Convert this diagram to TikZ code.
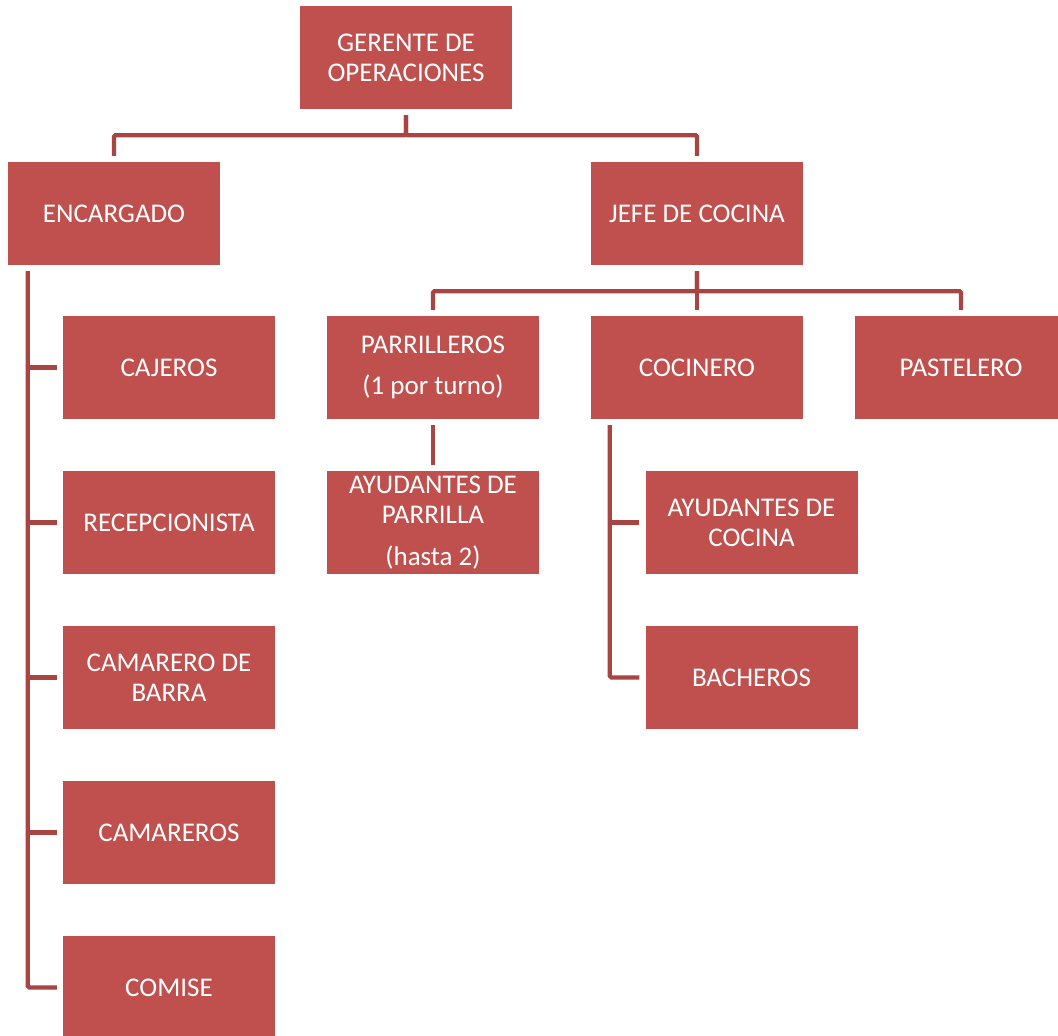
\documentclass[tikz,border=0pt]{standalone}
\usepackage{fontspec}
\setmainfont{Carlito}
\usepackage{tikz}
\usetikzlibrary{positioning}
\definecolor{rojocaja}{RGB}{192,80,77}
\definecolor{rojolinea}{RGB}{168,68,66}
\begin{document}
\begin{tikzpicture}[x=1pt,y=-1pt,
  puesto/.style={fill=rojocaja,draw=none,text=white,minimum width=212pt,minimum height=103pt,inner sep=0pt,align=center,font=\fontsize{27}{30}\selectfont},
  enlace/.style={draw=rojolinea,line width=4.2pt,rounded corners=1.5pt,shorten <=6pt,shorten >=6pt}]
\useasboundingbox (0,0) rectangle (1058,1036);
% primer nivel
\node[puesto] (ger) at (406,57.5) {GERENTE DE\\OPERACIONES};
\node[puesto] (enc) at (114,213.5) {ENCARGADO};
\node[puesto] (jefe) at (697,213.5) {JEFE DE COCINA};
% sala
\node[puesto] (caj) at (169,367.5) {CAJEROS};
\node[puesto] (rec) at (169,522.5) {RECEPCIONISTA};
\node[puesto] (cbar) at (169,677.5) {CAMARERO DE\\BARRA};
\node[puesto] (cams) at (169,832.5) {CAMAREROS};
\node[puesto] (com) at (169,987.5) {COMISE};
% cocina
\node[puesto] (parr) at (433,367.5) {PARRILLEROS\\[11pt](1 por turno)};
\node[puesto] (coc) at (697,367.5) {COCINERO};
\node[puesto] (past) at (961,367.5) {PASTELERO};
\node[puesto] (aypar) at (433,522.5) {AYUDANTES DE\\PARRILLA\\[12pt](hasta 2)};
\node[puesto] (aycoc) at (751.5,522.5) {AYUDANTES DE\\COCINA};
\node[puesto] (bach) at (751.5,677.5) {BACHEROS};
% enlaces
\draw[enlace] (ger.south) -- ++(0,26) -| (enc.north);
\draw[enlace] (ger.south) -- ++(0,26) -| (jefe.north);
\draw[enlace] (jefe.south) -- ++(0,26) -| (parr.north);
\draw[enlace] (jefe.south) -- (coc.north);
\draw[enlace] (jefe.south) -- ++(0,26) -| (past.north);
\draw[enlace] (parr.south) -- (aypar.north);
\coordinate (eje1) at ([xshift=20pt]enc.south west);
\coordinate (eje2) at ([xshift=19pt]coc.south west);
\draw[enlace] (eje1) |- (com.west);
\foreach \n in {caj,rec,cbar,cams}
  \draw[enlace,shorten <=0pt] (\n.west -| eje1) -- (\n.west);
\draw[enlace] (eje2) |- (bach.west);
\draw[enlace,shorten <=0pt] (aycoc.west -| eje2) -- (aycoc.west);
\end{tikzpicture}
\end{document}
